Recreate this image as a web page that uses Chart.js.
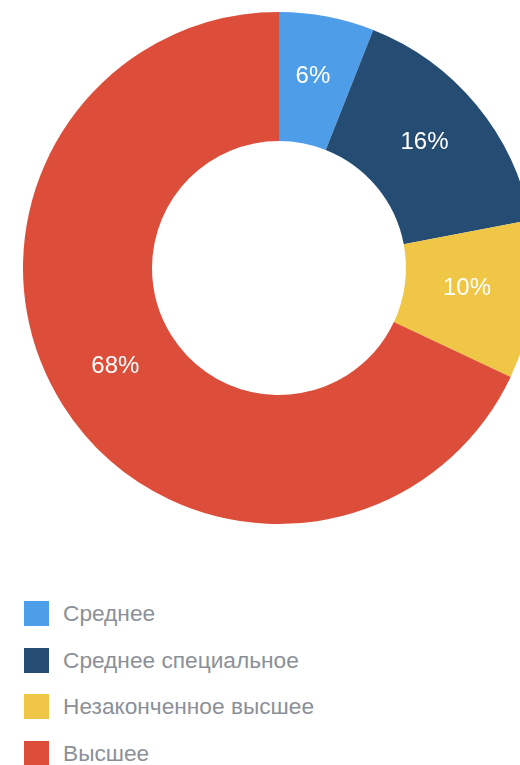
<!DOCTYPE html>
<html>
<head>
<meta charset="utf-8">
<script src="https://cdn.jsdelivr.net/npm/chart.js@4.4.1/dist/chart.umd.min.js"></script>
<style>
    html, body { margin: 0; padding: 0; background: #fff; overflow: hidden; width: 520px; height: 765px; }
    #wrap { position: absolute; left: 0; top: 0; }
    #legend { position: absolute; left: 24px; top: 601px; margin: 0; padding: 0; list-style: none; }
    #legend li { position: absolute; left: 0; display: flex; align-items: center; height: 25px; white-space: nowrap;
        font-family: "Liberation Sans", Arial, sans-serif; font-size: 22.7px; color: #8b9098; }
    #legend .box { width: 25px; height: 25px; margin-right: 14px; flex: none; }
</style>
</head>
<body>
<div id="wrap"><canvas id="eduChart" width="558" height="536"></canvas></div>
<ul id="legend"></ul>
<script>
    const labels = ['Среднее', 'Среднее специальное', 'Незаконченное высшее', 'Высшее'];
    const shares = [6, 16, 10, 68];
    const colors = ['#4e9de9', '#254d73', '#efc645', '#dc4d3a'];

    // подписи процентов внутри сегментов
    const percentLabels = {
        id: 'percentLabels',
        afterDatasetsDraw(chart) {
            const ctx = chart.ctx;
            const meta = chart.getDatasetMeta(0);
            ctx.save();
            ctx.fillStyle = '#ffffff';
            ctx.font = '24px "Liberation Sans", Arial, sans-serif';
            ctx.textAlign = 'center';
            ctx.textBaseline = 'middle';
            meta.data.forEach(function(arc, i) {
                const pos = arc.tooltipPosition();
                ctx.fillText(shares[i] + '%', pos.x - 2, pos.y - 4);
            });
            ctx.restore();
        }
    };

    new Chart(document.getElementById('eduChart').getContext('2d'), {
        type: 'doughnut',
        data: {
            labels: labels,
            datasets: [{
                data: shares,
                backgroundColor: colors,
                borderWidth: 0
            }]
        },
        options: {
            responsive: false,
            animation: false,
            cutout: '49.6%',
            layout: { padding: { top: 12, bottom: 12, left: 0, right: 0 } },
            plugins: {
                legend: { display: false },
                tooltip: { enabled: false }
            }
        },
        plugins: [percentLabels]
    });

    const legend = document.getElementById('legend');
    labels.forEach(function(name, i) {
        const li = document.createElement('li');
        li.style.top = (i * 46.7) + 'px';
        const box = document.createElement('span');
        box.className = 'box';
        box.style.background = colors[i];
        li.appendChild(box);
        li.appendChild(document.createTextNode(name));
        legend.appendChild(li);
    });
</script>
</body>
</html>
